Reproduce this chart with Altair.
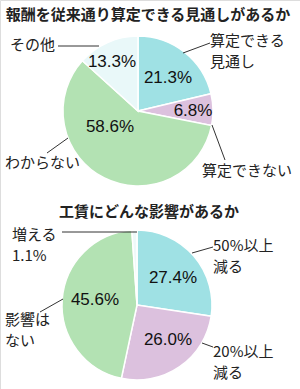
import altair as alt
import pandas as pd

# ---- data ----
cats1 = ["算定できる見通し", "算定できない", "わからない", "その他"]
vals1 = [21.3, 6.8, 58.6, 13.3]
cats2 = ["50%以上減る", "20%以上減る", "影響はない", "増える"]
vals2 = [27.4, 26.0, 45.6, 1.1]
title1 = "報酬を従来通り算定できる見通しがあるか"
title2 = "工賃にどんな影響があるか"

# ---- styles ----
colors1 = ["#9fe1e4", "#dcc1de", "#b3e2b3", "#e9f8f9"]
colors2 = ["#9fe1e4", "#dcc1de", "#b3e2b3", "#eef9f9"]
JP = "Noto Sans CJK JP"
NUM = "Liberation Sans"

df1 = pd.DataFrame({"cat": cats1, "value": vals1, "color": colors1, "idx": range(4)})
df2 = pd.DataFrame({"cat": cats2, "value": vals2, "color": colors2, "idx": range(4)})


def pie(df, cx, cy):
    return alt.Chart(df).mark_arc(outerRadius=75, stroke="white", strokeWidth=1.5).encode(
        theta=alt.Theta("value:Q", stack=True),
        order=alt.Order("idx:Q"),
        color=alt.Color("color:N", scale=None),
        x=alt.value(cx),
        y=alt.value(cy),
    )


# ---- layout: label positions (pixels) ----
pct_text = [f"{v:.1f}%" for v in vals1[:4]] + [f"{v:.1f}%" for v in vals2[:3]]
pct_x = [168, 193, 110, 112, 173, 168, 95]
pct_y = [78, 111, 127, 62, 278, 340, 300]
pct_df = pd.DataFrame({"t": pct_text, "x": pct_x, "y": pct_y})

out_text = ["その他", "算定できる", "見通し", "わからない", "算定できない",
            "増える", f"{vals2[3]:.1f}%", "影響は", "ない",
            "50%以上", "減る", "20%以上", "減る"]
out_x = [10, 210, 210, 5, 202, 12, 12, 5, 5, 213, 213, 213, 213]
out_y = [45, 41, 62, 163, 171, 235, 256, 320, 341, 246, 267, 352, 373]
out_df = pd.DataFrame({"t": out_text, "x": out_x, "y": out_y})

lines = pd.DataFrame({
    "x": [58, 183, 47, 212, 62, 40, 192, 202],
    "y": [46, 53, 153, 125, 232, 312, 253, 343],
    "x2": [99, 210, 68, 225, 137, 63, 213, 213],
    "y2": [46, 43, 138, 160, 232, 299, 247, 347],
})

titles = pd.DataFrame({"t": [title1, title2], "x": [148, 149], "y": [15, 212]})

X = lambda f: alt.X(f"{f}:Q", scale=None, axis=None)
Y = lambda f: alt.Y(f"{f}:Q", scale=None, axis=None)

pct_layer = alt.Chart(pct_df).mark_text(font=NUM, fontSize=17, color="#111",
                                        align="center", baseline="middle").encode(
    x=X("x"), y=Y("y"), text="t:N")

out_layer = alt.Chart(out_df).mark_text(font=JP, fontSize=15, color="#222",
                                        align="left", baseline="middle").encode(
    x=X("x"), y=Y("y"), text="t:N")

line_layer = alt.Chart(lines).mark_rule(color="#333", strokeWidth=1).encode(
    x=X("x"), y=Y("y"), x2="x2:Q", y2="y2:Q")

title_layer = alt.Chart(titles).mark_text(font=JP, fontSize=15, fontWeight="bold",
                                          color="#222", align="center",
                                          baseline="middle").encode(
    x=X("x"), y=Y("y"), text="t:N")

chart = alt.layer(
    pie(df1, 138, 111), pie(df2, 137, 305),
    line_layer, pct_layer, out_layer, title_layer,
).resolve_scale(theta="independent").properties(
    width=300, height=389,
    autosize=alt.AutoSizeParams(type="none"),
    padding=0,
).configure_view(stroke=None).configure(background="white")

chart.save("out.html", embed_options={"renderer": "svg", "actions": False})
